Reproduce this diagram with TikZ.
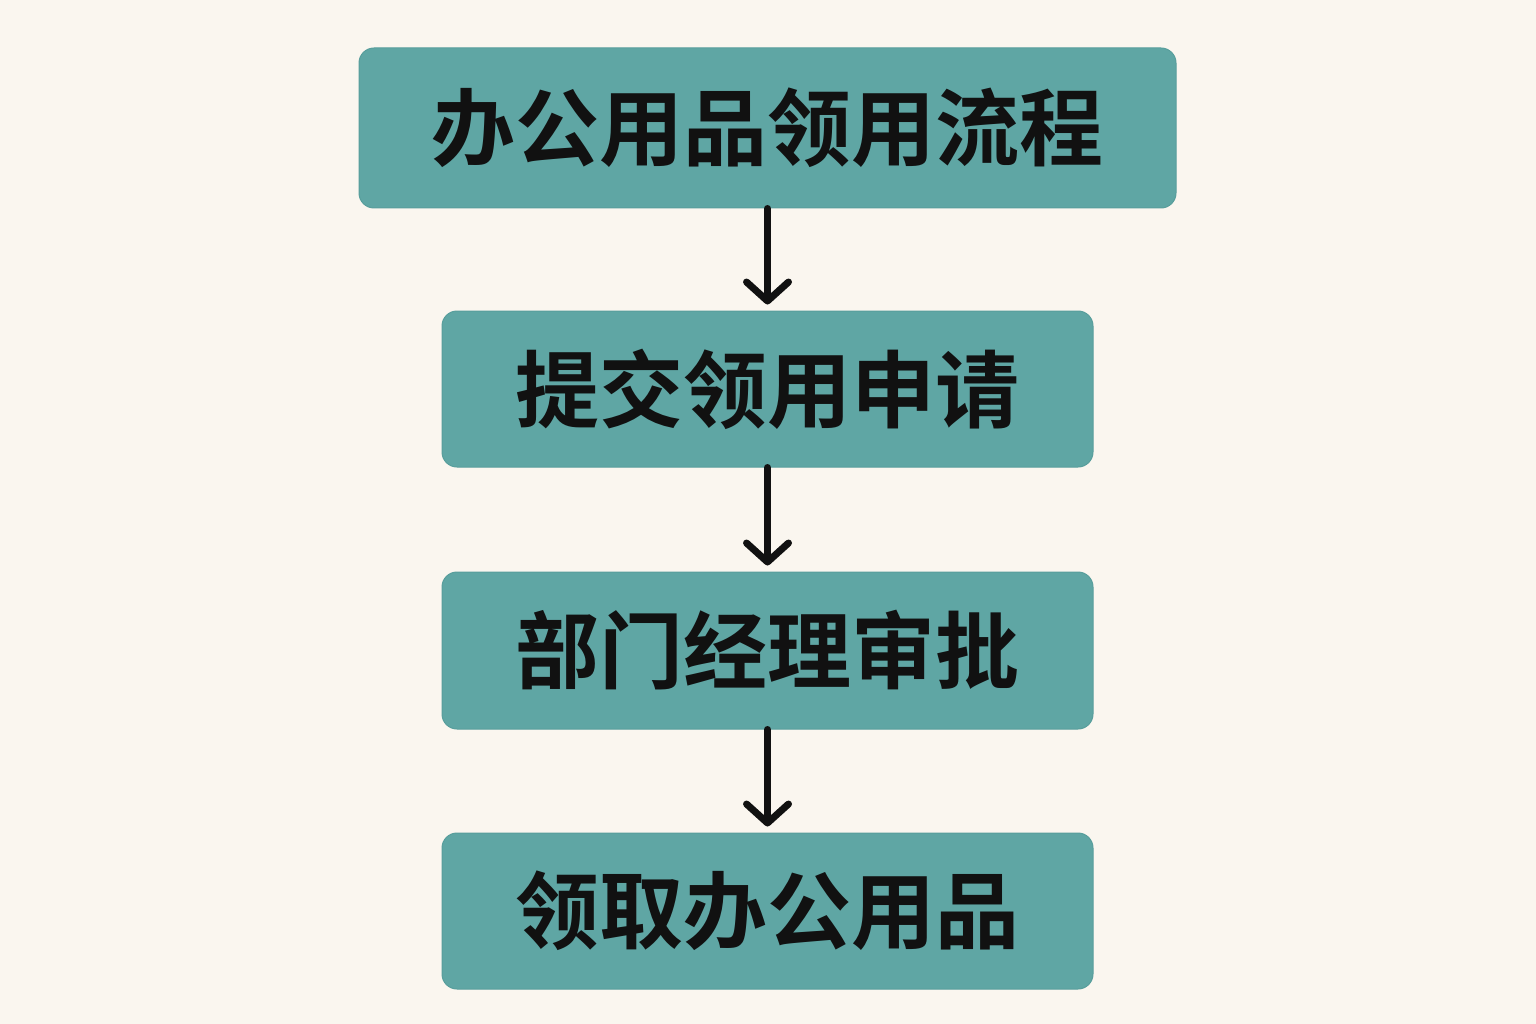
\documentclass[tikz,border=0pt]{standalone}
\usepackage{fontspec}
\newfontfamily\cjk{Noto Sans CJK SC}[BoldFont={Noto Sans CJK SC Bold}]
\usetikzlibrary{arrows.meta}
\definecolor{bgcol}{HTML}{FAF6EF}
\definecolor{boxcol}{HTML}{5FA6A4}
\definecolor{boxedge}{HTML}{589E9C}
\definecolor{ink}{HTML}{111111}
\tikzset{
  stepbox/.style={fill=boxcol, draw=boxedge, line width=1pt, rounded corners=15pt, inner sep=0pt,
    font=\cjk\bfseries\fontsize{84pt}{84pt}\selectfont, text=ink},
  flowarrow/.style={draw=ink, line width=7pt, line cap=round,
    -{Straight Barb[length=19pt,width=42pt,line cap=round,line join=round]}}
}
\begin{document}
\begin{tikzpicture}[x=1pt,y=-1pt]
\fill[bgcol] (0,0) rectangle (1536,1024);
\useasboundingbox (0,0) rectangle (1536,1024);
\node[stepbox, minimum width=817pt, minimum height=160pt] (b1) at (767.5,128) {办公用品领用流程};
\node[stepbox, minimum width=651pt, minimum height=156pt] (b2) at (767.5,389) {提交领用申请};
\node[stepbox, minimum width=651pt, minimum height=157pt] (b3) at (767.5,650.5) {部门经理审批};
\node[stepbox, minimum width=651pt, minimum height=156pt] (b4) at (767.5,911) {领取办公用品};
\draw[flowarrow] (b1.south) -- ([yshift=6pt]b2.north);
\draw[flowarrow] (b2.south) -- ([yshift=6pt]b3.north);
\draw[flowarrow] (b3.south) -- ([yshift=6pt]b4.north);
\end{tikzpicture}
\end{document}
